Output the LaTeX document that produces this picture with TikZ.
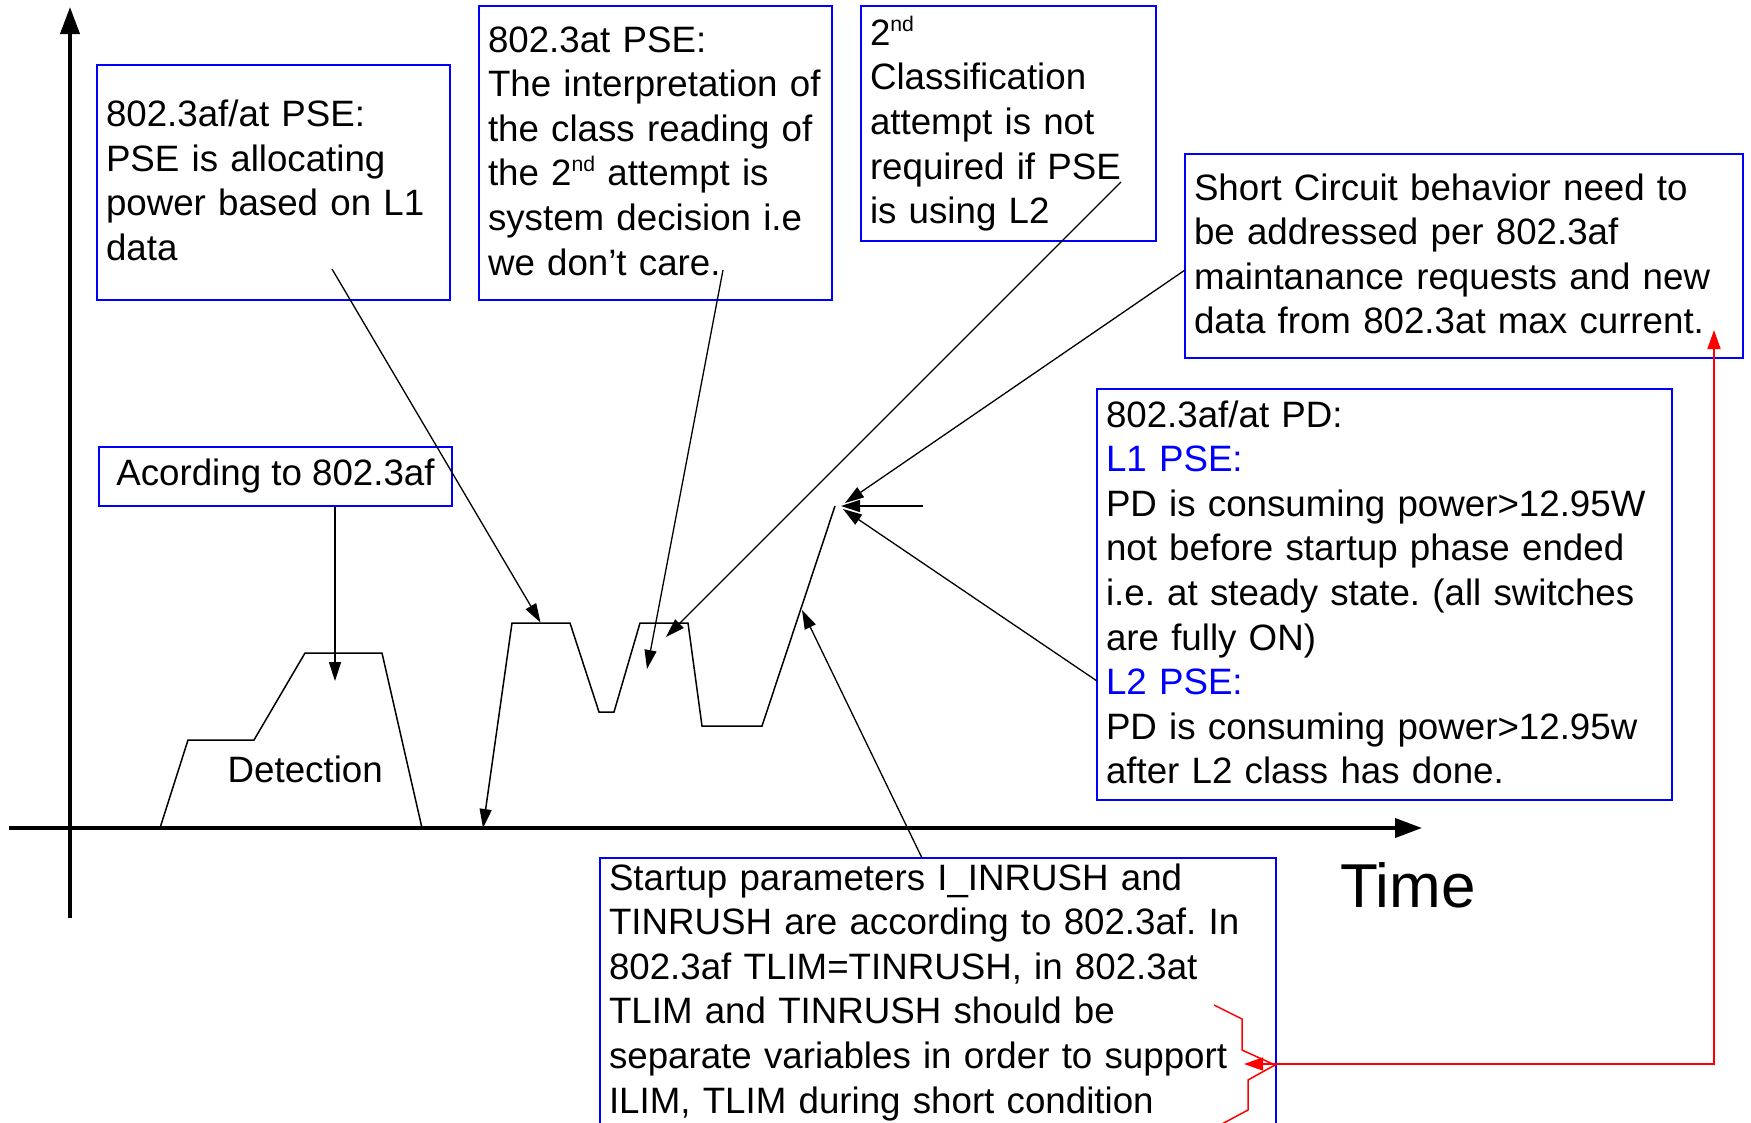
\documentclass[tikz,border=0pt]{standalone}
\usepackage{fontspec}
\setmainfont{Liberation Sans}
\usetikzlibrary{arrows.meta}
\newcommand\ordsup[1]{\raisebox{14.3pt}{\fontsize{21.2pt}{21.2pt}\selectfont #1}}
\newcommand\lowend{\rule[-4.5pt]{0pt}{4.5pt}}
\begin{document}
\frenchspacing
\begin{tikzpicture}[x=1pt,y=-1pt,
  txt/.style={font=\fontsize{36.7pt}{44.6pt}\selectfont},
  box/.style={draw=blue, line width=1.5pt, anchor=north west, outer sep=0pt, inner xsep=9pt, inner ysep=0pt, align=left, txt},
  conn/.style={line width=1.3pt, -{Triangle[length=19pt,width=12pt]}},
  wave/.style={line width=1.5pt, line join=miter},
  axis/.style={line width=4pt, -{Triangle[length=27pt,width=19pt]}},
  redc/.style={red, line width=1.5pt}]
\useasboundingbox (0,0) rectangle (1751,1122);
\clip (0,0) rectangle (1751,1122);
\fill[white] (0,0) rectangle (1751,1122);

% boxes
\node[box, text width=335pt, minimum height=235pt] (pse1) at (97,65)
  {802.3af/at PSE:\\PSE is allocating\\power based on L1\\data\lowend};
\node[box, text width=335pt, minimum height=294pt] (pse2) at (479,6)
  {802.3at PSE:\\The interpretation of\\the class reading of\\the 2\ordsup{nd} attempt is\\system decision i.e\\we don’t care.\lowend};
\node[box, text width=277pt, minimum height=235pt] (cls) at (861,6)
  {2\ordsup{nd}\\Classification\\attempt is not\\required if PSE\\is using L2};
\node[box, text width=540pt, minimum height=204pt] (short) at (1185,154)
  {Short Circuit behavior need to\\be addressed per 802.3af\\maintanance requests and new\\data from 802.3at max current.\lowend};
\node[box, text width=557pt, minimum height=411pt] (pd) at (1097,389)
  {802.3af/at PD:\\\textcolor{blue}{L1 PSE:}\\PD is consuming power>12.95W\\not before startup phase ended\\i.e. at steady state. (all switches\\are fully ON)\\\textcolor{blue}{L2 PSE:}\\PD is consuming power>12.95w\\after L2 class has done.\lowend};
\node[box, text width=658pt, minimum height=268pt] (start) at (600,858)
  {Startup parameters I\_INRUSH and\\TINRUSH are according to 802.3af. In\\802.3af TLIM=TINRUSH, in 802.3at\\TLIM and TINRUSH should be\\separate variables in order to support\\ILIM, TLIM during short condition};
\node[draw=blue, line width=1.5pt, minimum width=353pt, minimum height=59pt, inner sep=0pt, txt] (acc) at (275.5,476.5) {Acording to 802.3af};

% labels
\node[txt, anchor=base west, inner sep=0pt] (det) at (227.5,782) {Detection};
\node[font=\fontsize{62pt}{70pt}\selectfont, anchor=base west, inner sep=0pt] (time) at (1340,907) {Time};

% axes
\coordinate (yb) at (70,918); \coordinate (yt) at (70,7);
\draw[axis] (yb) -- (yt);
\coordinate (xl) at (9,828); \coordinate (xr) at (1422,828);
\draw[axis] (xl) -- (xr);

% waveforms
\draw[wave] (160,828) -- (188,740) -- (254,740) -- (305,653) -- (382,653) -- (422,828);
\coordinate (w2a) at (483,828);
\draw[wave, {Triangle[length=19pt,width=12pt]}-] (w2a) -- (512,623) -- (570,623) -- (599,712) -- (614,712) -- (640,623) -- (688,623) -- (702,726) -- (762,726) -- (835,506);

% connectors
\coordinate (t6) at (335,681);
\draw[conn] (acc.south -| t6) -- (t6);
\coordinate (s1) at (332,269); \coordinate (t1) at (540.5,622.5);
\draw[conn] (s1) -- (t1);
\coordinate (s2) at (723,270); \coordinate (t2) at (647,669);
\draw[conn] (s2) -- (t2);
\coordinate (s3) at (1121,182); \coordinate (t3) at (666,637);
\draw[conn] (s3) -- (t3);
\coordinate (s4) at (1185,270); \coordinate (t4) at (845,503);
\draw[conn] (s4) -- (t4);
\coordinate (s5) at (1097,681); \coordinate (t5) at (843,509);
\draw[conn] (s5) -- (t5);
\coordinate (s7) at (922,858); \coordinate (t7) at (802,610);
\draw[conn] (s7) -- (t7);
\coordinate (sp) at (923,506); \coordinate (tp) at (841,506);
\draw[conn] (sp) -- (tp);

% red connector and brace
\coordinate (ra) at (1244,1064); \coordinate (rc) at (1714,1064); \coordinate (rb) at (1714,330);
\draw[redc, {Triangle[length=19pt,width=13pt]}-{Triangle[length=19pt,width=13pt]}] (ra) -- (rc) -- (rb);
\draw[redc] (1214,1005) -- (1242,1019) -- (1242,1050) -- (1275,1065) -- (1248,1080) -- (1248,1110) -- (1220,1125);
\end{tikzpicture}
\end{document}
